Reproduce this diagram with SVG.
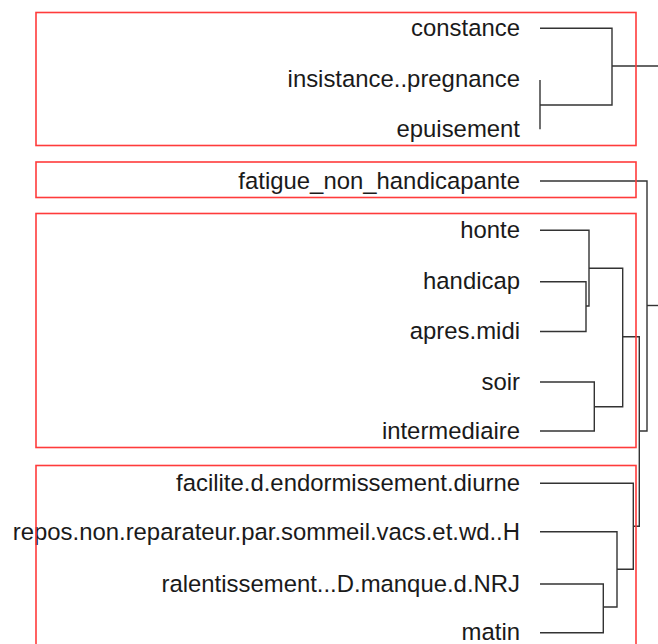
<svg xmlns="http://www.w3.org/2000/svg" width="658" height="644" viewBox="0 0 658 644">
<style>
.lbl{font-family:"Liberation Sans",Arial,sans-serif;font-size:23.9px;fill:#1a1a1a;text-anchor:end}
.ln{fill:none;stroke:#333;stroke-width:1.4}
.box{fill:none;stroke:#ff3b3b;stroke-width:1.6}
</style>
<rect width="658" height="644" fill="#fff"/>
<g id="leaves">
<g id="n-constance"><text class="lbl" x="520" y="36">constance</text></g>
<g id="n-insistance"><text class="lbl" x="520" y="87">insistance..pregnance</text></g>
<g id="n-epuisement"><text class="lbl" x="520" y="137">epuisement</text></g>
<g id="n-fatigue"><text class="lbl" x="520" y="188.5">fatigue_non_handicapante</text></g>
<g id="n-honte"><text class="lbl" x="520" y="238">honte</text></g>
<g id="n-handicap"><text class="lbl" x="520" y="289">handicap</text></g>
<g id="n-apres"><text class="lbl" x="520" y="339">apres.midi</text></g>
<g id="n-soir"><text class="lbl" x="520" y="389.5">soir</text></g>
<g id="n-intermediaire"><text class="lbl" x="520" y="438.5">intermediaire</text></g>
<g id="n-facilite"><text class="lbl" x="520" y="491">facilite.d.endormissement.diurne</text></g>
<g id="n-repos"><text class="lbl" x="520" y="539.5">repos.non.reparateur.par.sommeil.vacs.et.wd..H</text></g>
<g id="n-ralentissement"><text class="lbl" x="520" y="591.5">ralentissement...D.manque.d.NRJ</text></g>
<g id="n-matin"><text class="lbl" x="520" y="640">matin</text></g>
</g>
<g id="connectors">
<path class="ln" d="M540,28.3 H612 V105 H540"/>
<path class="ln" d="M540,80 V129.3"/>
<path class="ln" d="M612,66 H658"/>
<path class="ln" d="M540,181 H647 V431 H639.3"/>
<path class="ln" d="M647,305.5 H658"/>
<path class="ln" d="M540,230.3 H589 V306 H586"/>
<path class="ln" d="M540,281.7 H586 V331.5 H540"/>
<path class="ln" d="M589,268.3 H622.7 V406.7 H594.3"/>
<path class="ln" d="M540,382 H594.3 V431 H540"/>
<path class="ln" d="M622.7,336.7 H639.3 V526.3 H633.3"/>
<path class="ln" d="M540,483.3 H633.3 V569.3 H617"/>
<path class="ln" d="M540,531.7 H617 V607 H603.3"/>
<path class="ln" d="M540,584 H603.3 V632.7 H540"/>
</g>
<g id="clusters">
<rect id="c1" class="box" x="36" y="12.5" width="600" height="133"/>
<rect id="c2" class="box" x="36" y="162" width="600" height="35.5"/>
<rect id="c3" class="box" x="36" y="213.5" width="600" height="234"/>
<rect id="c4" class="box" x="36" y="465.5" width="600" height="200"/>
</g>
</svg>
